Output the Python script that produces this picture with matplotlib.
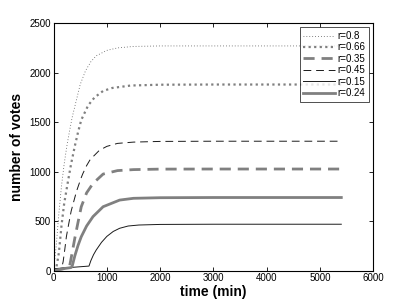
import matplotlib
matplotlib.use("Agg")
import matplotlib.pyplot as plt

plt.rcParams['font.family'] = ['Liberation Sans', 'DejaVu Sans']

labels = ["r=0.8", "r=0.66", "r=0.35", "r=0.45", "r=0.15", "r=0.24"]

t_08 = [0, 50, 100, 150, 200, 250, 300, 350, 400, 500, 600, 700, 800, 1000, 1200, 1500, 2000, 3000, 5400]
v_08 = [0, 250, 580, 860, 1080, 1260, 1410, 1550, 1660, 1880, 2020, 2110, 2170, 2225, 2250, 2265, 2270, 2270, 2270]

t_066 = [0, 50, 100, 150, 200, 270, 330, 400, 460, 520, 650, 770, 930, 1100, 1450, 2000, 3000, 5400]
v_066 = [0, 20, 180, 460, 680, 900, 1080, 1260, 1400, 1522, 1670, 1750, 1815, 1845, 1870, 1878, 1880, 1880]

t_035 = [0, 100, 200, 280, 300, 335, 400, 460, 520, 620, 740, 930, 1200, 1500, 2000, 3000, 5400]
v_035 = [0, 10, 20, 30, 40, 140, 330, 490, 645, 785, 880, 975, 1010, 1020, 1025, 1026, 1026]

t_045 = [0, 100, 150, 180, 210, 240, 270, 330, 430, 520, 550, 620, 680, 740, 860, 1000, 1200, 1500, 2000, 3000, 5400]
v_045 = [0, 10, 20, 90, 210, 340, 430, 600, 800, 940, 980, 1060, 1115, 1150, 1215, 1255, 1285, 1298, 1305, 1307, 1307]

t_015 = [0, 665, 700, 750, 800, 900, 1000, 1120, 1240, 1400, 1600, 2000, 3000, 5400]
v_015 = [18, 45, 100, 160, 207, 285, 345, 395, 427, 450, 460, 466, 468, 468]

t_024 = [0, 100, 200, 330, 350, 400, 460, 520, 620, 740, 930, 1240, 1500, 2000, 3000, 5400]
v_024 = [0, 10, 20, 30, 45, 150, 255, 342, 450, 545, 645, 712, 730, 736, 738, 738]

x_ticks = [0, 1000, 2000, 3000, 4000, 5000, 6000]
y_ticks = [0, 500, 1000, 1500, 2000, 2500]

gray = (0.5, 0.5, 0.5)

fig = plt.figure(figsize=(4.12, 3.05), dpi=100)
ax = fig.add_axes([0.130, 0.113, 0.776, 0.811])

ax.plot(t_08, v_08, color=(0.35, 0.35, 0.35), lw=0.6, ls=(0, (1, 2.5)), label=labels[0])
ax.plot(t_066, v_066, color=gray, lw=1.6, ls=(0, (1, 1.5)), label=labels[1])
ax.plot(t_035, v_035, color=gray, lw=2.0, ls=(0, (4, 2.5)), label=labels[2])
ax.plot(t_045, v_045, color=(0.1, 0.1, 0.1), lw=0.7, ls=(0, (8, 5)), label=labels[3])
ax.plot(t_015, v_015, color=(0.1, 0.1, 0.1), lw=0.7, ls='-', label=labels[4])
ax.plot(t_024, v_024, color=gray, lw=2.0, ls='-', label=labels[5])

ax.set_xlim(0, 6000)
ax.set_ylim(0, 2500)
ax.set_xticks(x_ticks)
ax.set_yticks(y_ticks)
ax.tick_params(direction='in', top=True, right=True, length=3, width=0.6, labelsize=7, pad=2)
for s in ax.spines.values():
    s.set_linewidth(0.8)
    s.set_color('black')

ax.set_xlabel("time (min)", fontsize=10, fontweight='bold', labelpad=1)
ax.set_ylabel("number of votes", fontsize=10, fontweight='bold', labelpad=4)

leg = ax.legend(loc='upper right', fontsize=7, frameon=True, fancybox=False,
                edgecolor='black', handlelength=3.2, handletextpad=0.3,
                labelspacing=0.15, borderpad=0.4, borderaxespad=0.4)
leg.get_frame().set_linewidth(0.6)

fig.savefig("out.png", dpi=100)
